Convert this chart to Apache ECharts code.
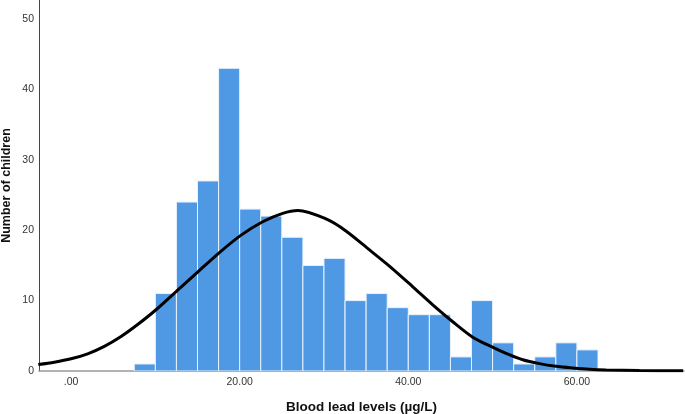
<!DOCTYPE html>
<html>
<head>
<meta charset="utf-8">
<script src="https://cdn.jsdelivr.net/npm/echarts@6/dist/echarts.min.js"></script>
<style>html,body{margin:0;padding:0;background:#fff;}#c{width:685px;height:414px;}</style>
</head>
<body>
<div id="c"></div>
<script>
// Histogram bins (lower edge), bin width 2.5
var binStarts = [7.5,10,12.5,15,17.5,20,22.5,25,27.5,30,32.5,35,37.5,40,42.5,45,47.5,50,52.5,55,57.5,60];
var binWidth = 2.5;
var counts = [1,11,24,27,43,23,22,19,15,16,10,11,9,8,8,2,10,4,1,2,4,3];
// Normal curve points
var curveX = [-3.88,-1.98,0,1.97,3.95,5.93,7.9,10.08,12.65,15.14,17.67,20.17,22.73,25.1,26.9,30.25,32.6,35.4,37.76,40.5,42.9,45.27,47.64,49.61,51.6,53.57,55.55,57.53,59.5,61.49,63.46,67.4,72.6];
var curveY = [0.92,1.25,1.73,2.44,3.5,4.9,6.6,8.7,11.5,14.2,16.9,19.3,21.2,22.4,22.8,21.6,19.9,17.2,14.9,12.0,9.4,7.0,4.8,3.6,2.5,1.6,1.05,0.67,0.43,0.24,0.14,0.07,0.03];
var xTickValues = [0,20,40,60];
var xTickLabels = ['.00','20.00','40.00','60.00'];
var yTickValues = [0,10,20,30,40,50];
var yTickLabels = ['0','10','20','30','40','50'];

var barData = binStarts.map(function(s,i){ return [s, s+binWidth, counts[i]]; });
var lineData = curveX.map(function(x,i){ return [x, curveY[i]]; });
var font = '"Liberation Sans", Arial, sans-serif';

var chart = echarts.init(document.getElementById('c'));
chart.setOption({
  animation: false,
  grid: {left: 39, right: 1, top: 0, bottom: 43, containLabel: false, outerBoundsMode: 'none'},
  xAxis: {
    type: 'value', min: -3.8, max: 72.7,
    name: 'Blood lead levels (µg/L)', nameLocation: 'middle', nameGap: 29, nameMoveOverlap: false,
    nameTextStyle: {fontFamily: font, fontWeight: 'bold', fontSize: 13.5, color: '#111'},
    axisLine: {show: true, onZero: false, lineStyle: {color: '#999', width: 1.5}},
    axisTick: {show: false},
    splitLine: {show: false},
    axisLabel: {
      customValues: xTickValues, margin: 6,
      fontFamily: font, fontSize: 10.5, color: '#333',
      formatter: function(v){ var i = xTickValues.indexOf(v); return i >= 0 ? xTickLabels[i] : ''; }
    }
  },
  yAxis: {
    type: 'value', min: 0, max: 52.7,
    name: 'Number of children', nameLocation: 'middle', nameGap: 26, nameRotate: 90, nameMoveOverlap: false,
    nameTextStyle: {fontFamily: font, fontWeight: 'bold', fontSize: 12.5, color: '#111'},
    axisLine: {show: true, onZero: false, lineStyle: {color: '#444', width: 1}},
    axisTick: {show: false},
    splitLine: {show: false},
    axisLabel: {
      customValues: yTickValues, margin: 5,
      fontFamily: font, fontSize: 10.5, color: '#333',
      formatter: function(v){ var i = yTickValues.indexOf(v); return i >= 0 ? yTickLabels[i] : ''; }
    }
  },
  series: [
    {
      type: 'custom',
      data: barData,
      encode: {x: [0,1], y: 2},
      clip: true,
      renderItem: function(params, api){
        var p0 = api.coord([api.value(0), 0]);
        var p1 = api.coord([api.value(1), api.value(2)]);
        return {
          type: 'rect',
          shape: {x: p0[0], y: p1[1], width: p1[0]-p0[0], height: p0[1]-p1[1]},
          style: {fill: '#4f98e4', stroke: '#eaf3fc', lineWidth: 1}
        };
      },
      z: 2
    },
    {
      type: 'line',
      data: lineData,
      smooth: 0.3,
      showSymbol: false,
      lineStyle: {color: '#000', width: 3},
      z: 3
    }
  ]
});
</script>
</body>
</html>
